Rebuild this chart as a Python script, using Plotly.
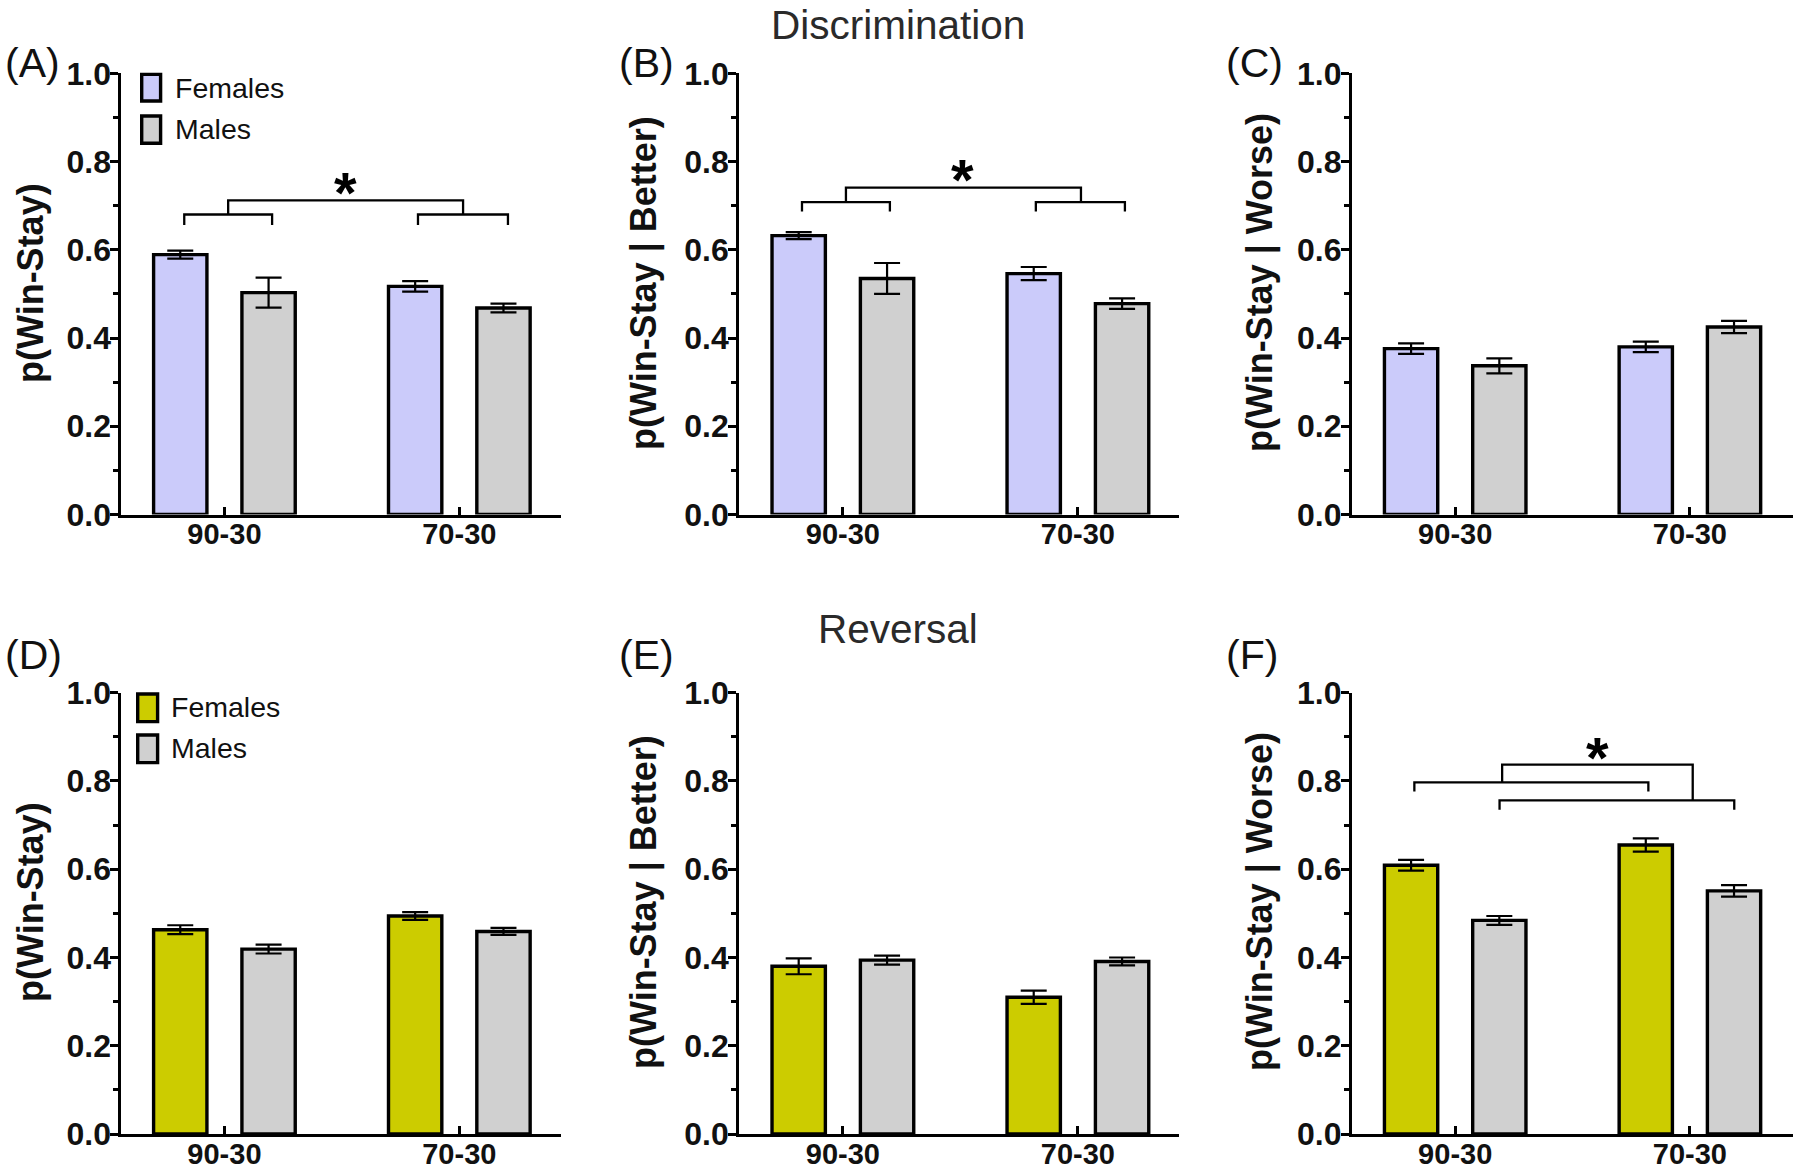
import plotly.graph_objects as go

W, H = 1800, 1171

categories = ["90-30", "70-30"]
cat_pos = [0, 1]
series_names = ["Females", "Males"]

# Means and SEM for each panel (Females, Males) at [90-30, 70-30]
A_fem = [0.589, 0.517]; A_fem_err = [0.009, 0.012]
A_mal = [0.503, 0.468]; A_mal_err = [0.034, 0.010]
B_fem = [0.632, 0.546]; B_fem_err = [0.008, 0.015]
B_mal = [0.535, 0.478]; B_mal_err = [0.035, 0.012]
C_fem = [0.376, 0.380]; C_fem_err = [0.012, 0.012]
C_mal = [0.337, 0.425]; C_mal_err = [0.017, 0.014]
D_fem = [0.463, 0.494]; D_fem_err = [0.010, 0.009]
D_mal = [0.419, 0.459]; D_mal_err = [0.010, 0.008]
E_fem = [0.380, 0.310]; E_fem_err = [0.018, 0.015]
E_mal = [0.394, 0.391]; E_mal_err = [0.010, 0.009]
F_fem = [0.609, 0.655]; F_fem_err = [0.012, 0.015]
F_mal = [0.484, 0.551]; F_mal_err = [0.010, 0.013]

y_titles = ["p(Win-Stay)", "p(Win-Stay | Better)", "p(Win-Stay | Worse)",
            "p(Win-Stay)", "p(Win-Stay | Better)", "p(Win-Stay | Worse)"]
panel_labels = ["(A)", "(B)", "(C)", "(D)", "(E)", "(F)"]
row_titles = ["Discrimination", "Reversal"]

# significance brackets (x in category units, y in data units)
A_br_x = [[-0.171, -0.171, 0.203, 0.203], [0.016, 0.016, 1.016, 1.016], [0.824, 0.824, 1.207, 1.207]]
A_br_y = [[0.656, 0.680, 0.680, 0.656], [0.680, 0.712, 0.712, 0.680], [0.656, 0.680, 0.680, 0.656]]
A_star = [0.517, 0.755]
B_br_x = [[-0.174, -0.174, 0.200, 0.200], [0.013, 0.013, 1.013, 1.013], [0.821, 0.821, 1.200, 1.200]]
B_br_y = [[0.687, 0.708, 0.708, 0.687], [0.708, 0.741, 0.741, 0.708], [0.687, 0.708, 0.708, 0.687]]
B_star = [0.508, 0.785]
F_br_x = [[-0.174, -0.174, 0.823, 0.823], [0.189, 0.189, 1.189, 1.189], [0.200, 0.200, 1.012, 1.012]]
F_br_y = [[0.776, 0.797, 0.797, 0.776], [0.735, 0.756, 0.756, 0.735], [0.797, 0.837, 0.837, 0.756]]
F_star = [0.607, 0.879]

COL_FEM_TOP = "#CBCBFA"
COL_FEM_BOT = "#CCCC00"
COL_MAL = "#D0D0D0"
FONT = "Liberation Sans, Arial, Helvetica, sans-serif"
TXT = "#111111"


def fx(px):
    return px / W


def fy(py):
    return 1 - py / H


# negative tick-label standoff pulls labels closer to the axis (if supported)
try:
    go.layout.XAxis(ticklabelstandoff=-8)
    XSTAND, YSTAND = -8, -7
except Exception:
    XSTAND, YSTAND = 0, 0

# panel geometry in pixels: x-left, x-right, y-top(1.0), y-bottom(0.0), x-range
COLS = [
    dict(x0=121.3, x1=560.8, xr=[-0.439, 1.432]),
    dict(x0=739.0, x1=1179.2, xr=[-0.442, 1.431]),
    dict(x0=1351.7, x1=1792.7, xr=[-0.441, 1.438]),
]
ROWS = [dict(yt=73.3, yb=514.5), dict(yt=692.7, yb=1134.0)]
panels = [dict(**ROWS[r], **COLS[c]) for r in range(2) for c in range(3)]

data = [
    (A_fem, A_fem_err, A_mal, A_mal_err, COL_FEM_TOP),
    (B_fem, B_fem_err, B_mal, B_mal_err, COL_FEM_TOP),
    (C_fem, C_fem_err, C_mal, C_mal_err, COL_FEM_TOP),
    (D_fem, D_fem_err, D_mal, D_mal_err, COL_FEM_BOT),
    (E_fem, E_fem_err, E_mal, E_mal_err, COL_FEM_BOT),
    (F_fem, F_fem_err, F_mal, F_mal_err, COL_FEM_BOT),
]

BAR_W = 0.227
OFFS = [-0.3015, 0.0745]

fig = go.Figure()
layout = {}
annotations = []
shapes = []

for i, (p, d) in enumerate(zip(panels, data)):
    n = "" if i == 0 else str(i + 1)
    xa, ya = "x" + n, "y" + n
    fem, fem_err, mal, mal_err, fcol = d
    for vals, errs, col, off, name in [(fem, fem_err, fcol, OFFS[0], series_names[0]),
                                       (mal, mal_err, COL_MAL, OFFS[1], series_names[1])]:
        fig.add_trace(go.Bar(
            x=cat_pos, y=vals, width=BAR_W, offset=off, name=name,
            marker=dict(color=col, line=dict(color="black", width=3.4)),
            error_y=dict(type="data", array=errs, color="black", thickness=2.2, width=13),
            xaxis=xa, yaxis=ya, showlegend=False,
        ))
    layout["xaxis" + n] = dict(
        domain=[fx(p["x0"]), fx(p["x1"])], range=p["xr"], anchor=ya,
        tickmode="array", tickvals=cat_pos, ticktext=categories,
        ticks="inside", ticklen=8, tickwidth=2.6, tickcolor="black",
        showline=True, linewidth=2.7, linecolor="black",
        showgrid=False, zeroline=False, fixedrange=True, ticklabelstandoff=XSTAND,
        tickfont=dict(family=FONT, size=29, color=TXT, weight="bold"),
    )
    layout["yaxis" + n] = dict(
        domain=[fy(p["yb"]), fy(p["yt"])], range=[0, 1], anchor=xa,
        dtick=0.2, tick0=0, tickformat=".1f",
        ticks="outside", ticklen=8, tickwidth=2.6, tickcolor="black",
        minor=dict(dtick=0.1, ticks="outside", ticklen=5, tickwidth=2.6, tickcolor="black", showgrid=False),
        showline=True, linewidth=2.7, linecolor="black",
        showgrid=False, zeroline=False, fixedrange=True, ticklabelstandoff=YSTAND,
        tickfont=dict(family=FONT, size=32, color=TXT, weight="bold"),
    )

# significance brackets
STAR_SIZE = 58
for (bx, by, star, n) in [(A_br_x, A_br_y, A_star, ""), (B_br_x, B_br_y, B_star, "2"), (F_br_x, F_br_y, F_star, "6")]:
    for xs, ys in zip(bx, by):
        fig.add_trace(go.Scatter(x=xs, y=ys, mode="lines", line=dict(color="black", width=2.3),
                                 xaxis="x" + n, yaxis="y" + n, showlegend=False, hoverinfo="skip"))
    annotations.append(dict(x=star[0], y=star[1], xref="x" + n, yref="y" + n, text="*",
                            showarrow=False, yshift=-0.2 * STAR_SIZE,
                            font=dict(family=FONT, size=STAR_SIZE, color="black", weight="bold")))

# y-axis titles
ytitle_pos = [(30, 283), (644, 283), (1260, 283), (30, 902), (644, 902), (1260, 902)]
for t, (px, py) in zip(y_titles, ytitle_pos):
    annotations.append(dict(x=fx(px), y=fy(py), xref="paper", yref="paper", text=t,
                            textangle=-90, showarrow=False, xanchor="center", yanchor="middle",
                            font=dict(family=FONT, size=36, color=TXT, weight="bold")))

# panel labels
label_pos = [(3, 63), (617, 63), (1224, 63), (3, 655), (617, 655), (1224, 655)]
for t, (px, py) in zip(panel_labels, label_pos):
    annotations.append(dict(x=fx(px), y=fy(py), xref="paper", yref="paper", text=t,
                            showarrow=False, xanchor="left", yanchor="middle",
                            font=dict(family=FONT, size=41, color=TXT)))

# row titles
for t, (px, py) in zip(row_titles, [(897.5, 25), (897.5, 629)]):
    annotations.append(dict(x=fx(px), y=fy(py), xref="paper", yref="paper", text=t,
                            showarrow=False, xanchor="center", yanchor="middle",
                            font=dict(family=FONT, size=40.5, color="#2a2a2a")))

# manual legends (boxes + text)
legends = [
    dict(x0=140, x1=162.3, rows=[(72.7, 102.7), (114.3, 145.0)], tx=172.7, ty=[88.4, 129.4],
         cols=[COL_FEM_TOP, COL_MAL]),
    dict(x0=136, x1=159.3, rows=[(692.3, 723.3), (733.3, 764.3)], tx=169.3, ty=[706.8, 748.4],
         cols=[COL_FEM_BOT, COL_MAL]),
]
for lg in legends:
    for (y0, y1), ty, col, name in zip(lg["rows"], lg["ty"], lg["cols"], series_names):
        shapes.append(dict(type="rect", xref="paper", yref="paper",
                           x0=fx(lg["x0"] + 1.7), x1=fx(lg["x1"] - 1.7),
                           y0=fy(y1 - 1.7), y1=fy(y0 + 1.7),
                           fillcolor=col, line=dict(color="black", width=3.4)))
        annotations.append(dict(x=fx(lg["tx"]), y=fy(ty), xref="paper", yref="paper",
                                text=name, showarrow=False, xanchor="left", yanchor="middle",
                                font=dict(family=FONT, size=28.5, color=TXT)))

fig.update_layout(
    autosize=True, margin=dict(l=0, r=0, t=0, b=0, autoexpand=False),
    paper_bgcolor="white", plot_bgcolor="rgba(0,0,0,0)",
    barmode="overlay", annotations=annotations, shapes=shapes,
    font=dict(family=FONT, color=TXT), showlegend=False,
    **layout,
)

post = (
    "document.documentElement.style.margin='0';"
    "document.documentElement.style.overflow='hidden';"
    "document.body.style.margin='0';"
    "document.body.style.overflow='hidden';"
    "var gdiv=document.getElementById('{plot_id}');"
    "gdiv.style.position='fixed';gdiv.style.left='0px';gdiv.style.top='0px';"
)

fig.write_html("out.html", config={"displayModeBar": False},
               default_width="100vw", default_height="100vh", post_script=post)
